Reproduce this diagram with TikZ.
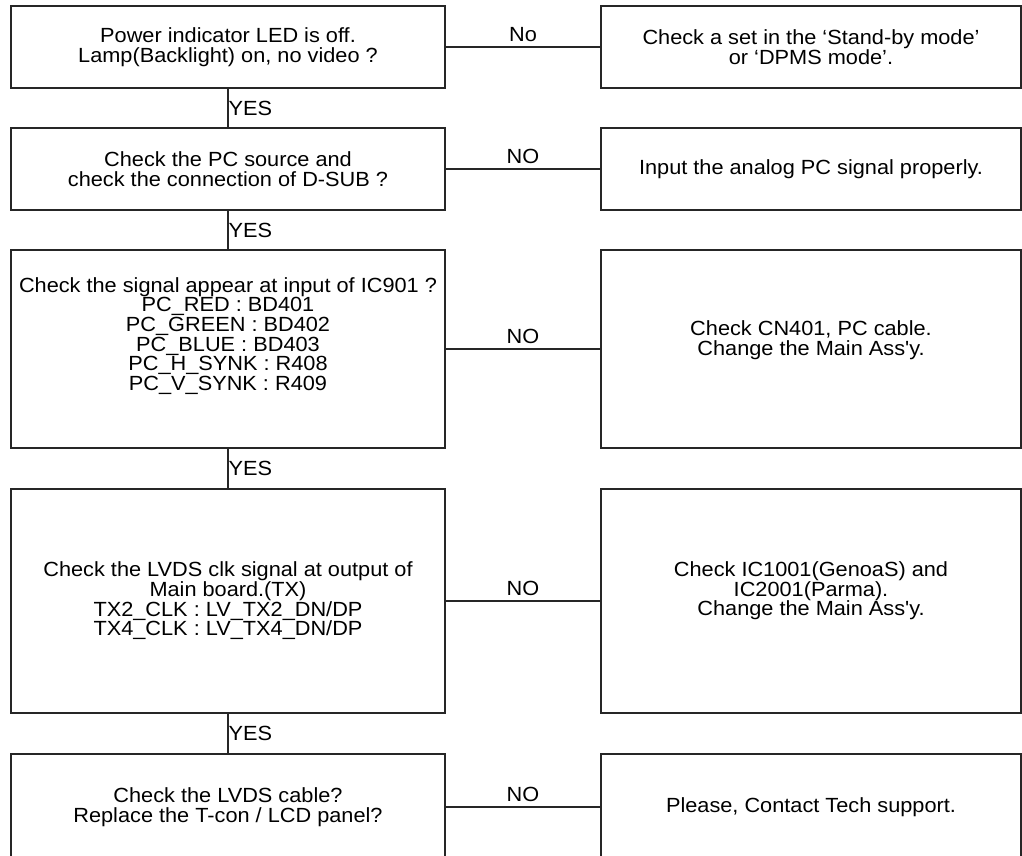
\documentclass[tikz,border=0pt]{standalone}
\usepackage{fontspec}
\newfontfamily\mf{Liberation Sans}[FakeStretch=1.06]
\begin{document}
\begin{tikzpicture}[x=1pt,y=-1pt,
  box/.style={draw=black!85,line width=1.2pt,rectangle,inner sep=0pt},
  lbox/.style={box,minimum width=434pt},
  rbox/.style={box,minimum width=420pt},
  txt/.style={align=center,inner sep=0pt,font=\mf\fontsize{20.5}{19.6}\selectfont},
  conn/.style={draw=black!85,line width=1.2pt},
  lab/.style={font=\mf\fontsize{20.5}{19.6}\selectfont,inner sep=0pt}
]
\useasboundingbox (0,0) rectangle (1022,856);
\node[lbox,minimum height=82pt] (L1) at (228,47) {};
\node[rbox,minimum height=82pt] (R1) at (811,47) {};
\node[lbox,minimum height=82pt] (L2) at (228,169) {};
\node[rbox,minimum height=82pt] (R2) at (811,169) {};
\node[lbox,minimum height=198pt] (L3) at (228,349) {};
\node[rbox,minimum height=198pt] (R3) at (811,349) {};
\node[lbox,minimum height=224pt] (L4) at (228,601) {};
\node[rbox,minimum height=224pt] (R4) at (811,601) {};
\node[lbox,minimum height=106pt] (L5) at (228,807) {};
\node[rbox,minimum height=106pt] (R5) at (811,807) {};

\node[txt] (tL1) at (L1.center) {Power indicator LED is off.\\Lamp(Backlight) on, no video ?};
\node[txt] (tR1) at (R1.center) {Check a set in the ‘Stand-by mode’\\or ‘DPMS mode’.};
\node[txt] (tL2) at (L2.center) {Check the PC source and\\check the connection of D-SUB ?};
\node[txt] (tR2) at (R2.center) {Input the analog PC signal properly.};
\node[txt] (tL3) at ([yshift=13pt]L3.center) {Check the signal appear at input of IC901 ?\\PC\_RED : BD401\\PC\_GREEN : BD402\\PC\_BLUE : BD403\\PC\_H\_SYNK : R408\\PC\_V\_SYNK : R409};
\node[txt] (tR3) at ([yshift=9pt]R3.center) {Check CN401, PC cable.\\Change the Main Ass'y.};
\node[txt] (tL4) at (L4.center) {Check the LVDS clk signal at output of\\Main board.(TX)\\TX2\_CLK : LV\_TX2\_DN/DP\\TX4\_CLK : LV\_TX4\_DN/DP};
\node[txt] (tR4) at ([yshift=10pt]R4.center) {Check IC1001(GenoaS) and\\IC2001(Parma).\\Change the Main Ass'y.};
\node[txt] (tL5) at (L5.center) {Check the LVDS cable?\\Replace the T-con / LCD panel?};
\node[txt] (tR5) at (R5.center) {Please, Contact Tech support.};

\draw[conn] (L1) -- node[lab,above=5pt]{No} (R1);
\draw[conn] (L2) -- node[lab,above=5pt]{NO} (R2);
\draw[conn] (L3) -- node[lab,above=5pt]{NO} (R3);
\draw[conn] (L4) -- node[lab,above=5pt]{NO} (R4);
\draw[conn] (L5) -- node[lab,above=5pt]{NO} (R5);

\draw[conn] (L1) -- node[lab,anchor=west]{YES} (L2);
\draw[conn] (L2) -- node[lab,anchor=west]{YES} (L3);
\draw[conn] (L3) -- node[lab,anchor=west]{YES} (L4);
\draw[conn] (L4) -- node[lab,anchor=west]{YES} (L5);
\end{tikzpicture}
\end{document}
